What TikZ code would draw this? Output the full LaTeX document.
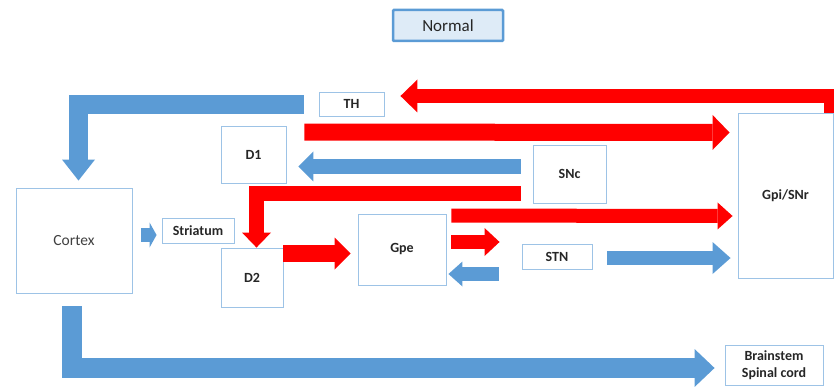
\documentclass[tikz,border=0pt]{standalone}
\usepackage{fontspec}
\setmainfont{Carlito}
\usetikzlibrary{arrows.meta, calc}

\definecolor{armblue}{HTML}{5B9BD5}
\definecolor{armred}{HTML}{FF0000}
\definecolor{boxline}{HTML}{9DC3E6}
\definecolor{titlefill}{HTML}{DEEBF7}

\begin{document}
\begin{tikzpicture}[x=1pt, y=-1pt,
  box/.style={draw=boxline, line width=0.9pt, inner sep=0pt, text=black!85,
              font=\fontsize{14}{17}\selectfont\bfseries},
  barrow/.style n args={3}{draw=armblue, line width=#1,
              -{Triangle[length=#3, width=#2, line width=0pt]}},
  rarrow/.style n args={3}{draw=armred, line width=#1,
              -{Triangle[length=#3, width=#2, line width=0pt]}}]
  \useasboundingbox (0,0) rectangle (834,387);

  % title
  \node[draw=armblue, fill=titlefill, line width=2.5pt, rounded corners=1pt,
        minimum width=110pt, minimum height=31pt, text=black!85,
        font=\fontsize{17}{20}\selectfont] (normal) at (448,25.5) {Normal};

  % regions
  \node[box, minimum width=116pt, minimum height=105pt, text=black!75,
        font=\fontsize{15.5}{18}\selectfont] (cortex) at (74,240.5) {Cortex};
  \node[box, minimum width=72pt, minimum height=25pt] (striatum) at (198,230.5) {Striatum};
  \node[box, minimum width=65pt, minimum height=24pt] (th) at (351.5,104) {TH};
  \node[box, minimum width=65pt, minimum height=57pt] (d1) at (253.5,154.5) {D1};
  \node[box, minimum width=62pt, minimum height=59pt] (d2) at (252,277.5) {D2};
  \node[box, minimum width=88pt, minimum height=71pt] (gpe) at (402,249.5) {Gpe};
  \node[box, minimum width=73pt, minimum height=58pt] (snc) at (569.5,174) {SNc};
  \node[box, minimum width=70pt, minimum height=25pt] (stn) at (557,256.5) {STN};
  \node[box, minimum width=95pt, minimum height=165pt] (gpi) at (785.5,195.5) {Gpi/SNr};
  \node[box, minimum width=98pt, minimum height=40pt, align=center] (brainstem)
        at (774,365) {Brainstem\\Spinal cord};

  % excitatory (blue)
  \draw[barrow={19pt}{33pt}{21pt}] ($(th.west)+(-15,0.5)$) -| ($(cortex.north)+(4.5,-7)$);
  \draw[barrow={14pt}{25pt}{7pt}] ($(cortex.east)+(9,-5.5)$) -- ($(striatum.west)+(-5,4.5)$);
  \draw[barrow={15pt}{30pt}{15pt}] ($(snc.west)+(-12,-7.5)$) -- ($(d1.east)+(12,12)$);
  \draw[barrow={14pt}{25pt}{14pt}] ($(stn.west)+(-23,17.5)$) -- ($(gpe.east)+(2,24.5)$);
  \draw[barrow={14pt}{32pt}{18pt}] ($(stn.east)+(15,1.5)$) -- ($(gpi.west)+(-7,62.5)$);
  \draw[barrow={20pt}{38pt}{20pt}] ($(cortex.south)+(-2,13)$) |- ($(brainstem.west)+(-10,3)$);

  % inhibitory (red)
  \draw[rarrow={14pt}{33pt}{17pt}] ($(gpi.north east)+(-2,0)$) |- ($(th.east)+(16,-8)$);
  \draw[rarrow={17pt}{35pt}{17pt}] ($(d1.north east)+(18,6.5)$) -- ($(gpi.west)+(-8,-63)$);
  \draw[rarrow={15.5pt}{29pt}{15pt}] ($(snc.west)+(-12,19.5)$) -| ($(d2.north)+(4.5,0)$);
  \draw[rarrow={17pt}{32pt}{16pt}] ($(d2.east)+(0,-24)$) -- ($(gpe.west)+(-7,4)$);
  \draw[rarrow={14pt}{27pt}{15pt}] ($(gpe.north east)+(5,2)$) -- ($(gpi.west)+(-5,20.5)$);
  \draw[rarrow={14pt}{28pt}{15pt}] ($(gpe.east)+(5,-7.5)$) -- ($(stn.west)+(-22,-14.5)$);
\end{tikzpicture}
\end{document}
